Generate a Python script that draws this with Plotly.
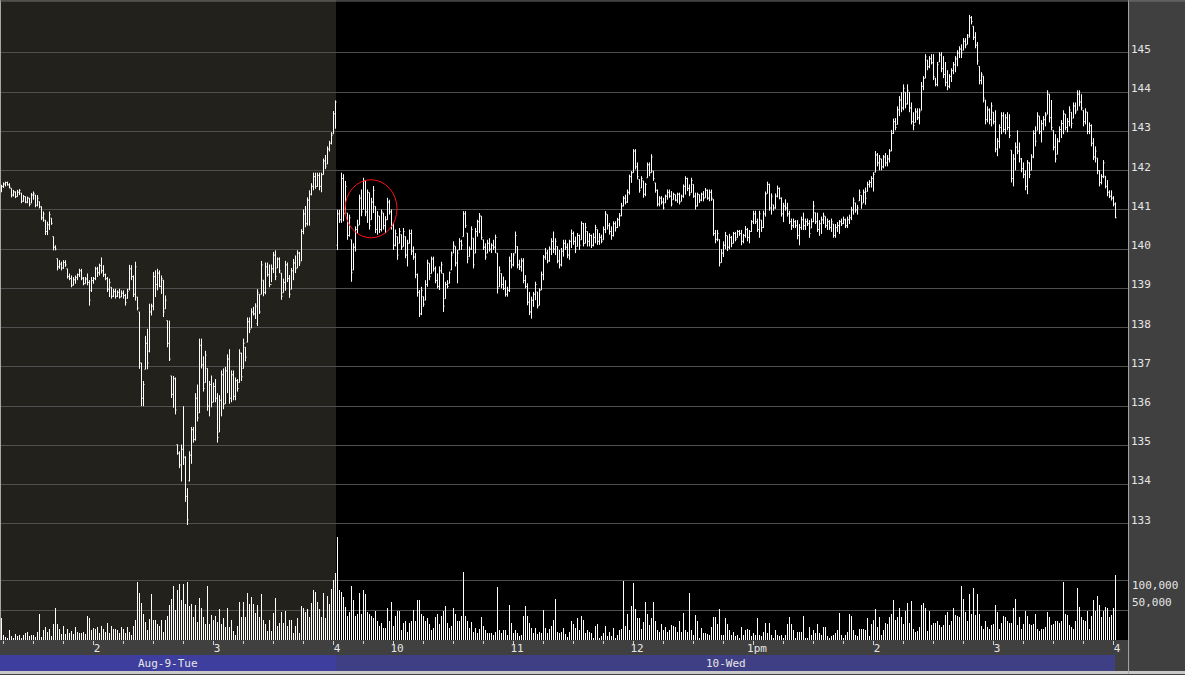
import numpy as np
import plotly.graph_objects as go

# ---------------- data (1-minute bars) ----------------
# Session axis labels
tick_labels = ["2", "3", "4", "10", "11", "12", "1pm", "2", "3", "4"]
session_labels = ["Aug-9-Tue", "10-Wed"]
price_ticks = [133, 134, 135, 136, 137, 138, 139, 140, 141, 142, 143, 144, 145]
volume_ticks = [50000, 100000]

# Aug 9 (afternoon, 168 bars)
aug9_high = [
    141.64, 141.70, 141.72, 141.72, 141.68, 141.55, 141.51, 141.47, 141.51, 141.53,
    141.43, 141.38, 141.34, 141.34, 141.30, 141.43, 141.47, 141.38, 141.38, 141.21,
    141.09, 140.96, 140.74, 140.70, 140.96, 140.79, 140.32, 140.10, 139.76, 139.72,
    139.68, 139.72, 139.72, 139.50, 139.38, 139.33, 139.29, 139.33, 139.38, 139.50,
    139.50, 139.29, 139.29, 139.38, 139.21, 139.29, 139.29, 139.55, 139.55, 139.63,
    139.79, 139.59, 139.38, 139.29, 139.25, 139.03, 138.99, 138.99, 138.95, 138.99,
    138.95, 138.95, 138.86, 138.99, 139.60, 139.59, 139.33, 139.68, 138.78, 138.40,
    137.10, 136.64, 137.79, 137.97, 138.61, 138.61, 139.42, 139.46, 139.50, 139.46,
    139.33, 139.21, 138.82, 138.18, 138.18, 136.77, 136.77, 136.73, 135.02, 134.85,
    135.02, 136.00, 134.72, 133.91, 134.85, 135.47, 135.47, 136.33, 136.55, 137.72,
    137.72, 137.27, 137.41, 136.96, 136.64, 136.78, 136.60, 136.69, 136.33, 136.28,
    136.91, 136.96, 137.00, 137.32, 137.45, 136.91, 136.91, 136.73, 136.69, 137.45,
    137.36, 137.72, 137.50, 138.26, 138.26, 138.49, 138.53, 138.62, 138.98, 138.85,
    139.70, 139.21, 139.66, 139.66, 139.61, 139.61, 139.93, 139.97, 139.79, 139.79,
    139.39, 139.25, 139.70, 139.66, 139.34, 139.52, 139.75, 139.84, 139.97, 139.93,
    140.51, 141.01, 141.10, 141.32, 141.50, 141.68, 141.95, 141.95, 141.95, 141.95,
    141.95, 142.31, 142.40, 142.62, 142.76, 142.98, 143.52, 143.79,
]
aug9_low = [
    141.45, 141.56, 141.60, 141.62, 141.55, 141.32, 141.34, 141.30, 141.34, 141.38,
    141.17, 141.21, 141.17, 141.17, 141.09, 141.17, 141.26, 141.07, 141.09, 141.04,
    140.74, 140.70, 140.36, 140.36, 140.49, 140.62, 139.97, 139.97, 139.46, 139.50,
    139.46, 139.50, 139.55, 139.25, 139.21, 139.03, 139.08, 139.12, 139.21, 139.29,
    139.21, 139.08, 139.12, 139.08, 138.56, 138.91, 139.12, 139.21, 139.29, 139.33,
    139.38, 139.29, 139.21, 138.91, 138.78, 138.74, 138.78, 138.74, 138.78, 138.74,
    138.78, 138.74, 138.56, 138.74, 138.95, 139.21, 138.78, 138.69, 138.44, 136.95,
    136.00, 136.00, 136.94, 136.94, 137.37, 138.31, 138.44, 138.78, 138.95, 139.03,
    138.86, 138.27, 138.48, 137.50, 137.15, 136.21, 135.96, 135.79, 134.76, 134.42,
    134.08, 134.50, 133.56, 132.97, 134.08, 134.53, 135.07, 135.12, 135.61, 135.83,
    136.96, 136.37, 136.60, 135.88, 135.74, 135.97, 136.10, 136.10, 135.07, 135.34,
    135.74, 135.92, 136.06, 136.33, 136.06, 136.10, 136.15, 136.15, 136.37, 136.60,
    136.64, 136.96, 137.14, 137.63, 137.86, 137.99, 138.31, 138.22, 138.04, 138.35,
    138.85, 138.80, 138.85, 139.30, 139.03, 139.16, 139.39, 139.21, 139.52, 139.39,
    138.71, 138.89, 138.94, 139.16, 138.76, 138.98, 139.21, 139.39, 139.52, 139.57,
    139.70, 140.38, 140.56, 140.60, 140.60, 141.37, 141.50, 141.54, 141.59, 141.50,
    141.45, 141.90, 142.04, 142.17, 142.49, 142.67, 142.94, 143.07,
]
aug9_open = [
    141.50, 141.60, 141.66, 141.70, 141.64, 141.55, 141.38, 141.46, 141.34, 141.45,
    141.43, 141.22, 141.34, 141.20, 141.30, 141.18, 141.38, 141.38, 141.12, 141.21,
    141.08, 140.80, 140.74, 140.45, 140.62, 140.79, 140.32, 140.05, 139.76, 139.55,
    139.62, 139.52, 139.66, 139.50, 139.30, 139.25, 139.08, 139.22, 139.28, 139.35,
    139.45, 139.26, 139.12, 139.24, 139.15, 138.95, 139.20, 139.25, 139.50, 139.40,
    139.58, 139.45, 139.35, 139.25, 138.98, 139.03, 138.80, 138.92, 138.80, 138.90,
    138.78, 138.88, 138.82, 138.75, 138.98, 139.50, 139.30, 138.85, 138.78, 138.40,
    137.10, 136.20, 136.94, 137.60, 137.40, 138.40, 138.55, 139.30, 139.10, 139.38,
    139.05, 139.21, 138.48, 138.18, 137.60, 136.77, 136.30, 136.70, 135.02, 134.80,
    134.50, 134.90, 134.70, 133.70, 134.10, 134.75, 135.40, 135.15, 136.20, 135.83,
    137.55, 137.05, 136.60, 136.96, 136.00, 136.55, 136.10, 136.50, 136.20, 135.34,
    136.15, 136.80, 136.06, 136.90, 137.20, 136.20, 136.80, 136.25, 136.65, 136.60,
    137.35, 136.96, 137.50, 137.63, 138.15, 137.99, 138.40, 138.35, 138.10, 138.85,
    138.85, 139.21, 138.90, 139.55, 139.35, 139.10, 139.50, 139.85, 139.52, 139.75,
    139.39, 138.89, 139.15, 139.60, 139.25, 138.98, 139.45, 139.65, 139.52, 139.90,
    139.70, 140.45, 140.90, 140.65, 141.25, 141.40, 141.60, 141.85, 141.60, 141.88,
    141.60, 141.90, 142.25, 142.17, 142.55, 142.70, 142.94, 143.45,
]
aug9_close = [
    141.60, 141.66, 141.70, 141.64, 141.58, 141.38, 141.46, 141.34, 141.45, 141.50,
    141.22, 141.34, 141.20, 141.30, 141.14, 141.38, 141.42, 141.12, 141.30, 141.08,
    140.80, 140.90, 140.45, 140.62, 140.88, 140.66, 140.05, 140.00, 139.55, 139.62,
    139.52, 139.66, 139.60, 139.30, 139.25, 139.08, 139.22, 139.28, 139.35, 139.45,
    139.26, 139.12, 139.24, 139.15, 138.70, 139.20, 139.25, 139.50, 139.40, 139.58,
    139.45, 139.35, 139.25, 138.98, 139.15, 138.80, 138.92, 138.80, 138.90, 138.78,
    138.88, 138.82, 138.64, 138.92, 139.50, 139.30, 138.85, 139.55, 138.50, 137.10,
    136.20, 136.55, 137.60, 137.10, 138.40, 138.55, 139.30, 139.10, 139.40, 139.05,
    139.25, 138.40, 138.70, 137.60, 137.20, 136.30, 136.70, 135.90, 134.80, 134.50,
    134.90, 134.70, 133.70, 133.10, 134.75, 135.40, 135.15, 136.20, 135.70, 137.55,
    137.05, 136.45, 137.30, 136.00, 136.55, 136.10, 136.50, 136.20, 135.20, 136.15,
    136.80, 136.05, 136.90, 137.20, 136.20, 136.80, 136.25, 136.65, 136.45, 137.35,
    136.75, 137.60, 137.25, 138.15, 137.95, 138.40, 138.35, 138.55, 138.90, 138.40,
    139.60, 138.90, 139.55, 139.35, 139.10, 139.50, 139.85, 139.30, 139.75, 139.45,
    138.80, 139.15, 139.60, 139.25, 138.85, 139.45, 139.65, 139.50, 139.90, 139.65,
    140.45, 140.90, 140.65, 141.25, 141.40, 141.60, 141.85, 141.60, 141.88, 141.60,
    141.90, 142.25, 142.10, 142.55, 142.70, 142.90, 143.45, 143.75,
]
aug9_volume_k = [
    36, 8, 5, 4, 17, 6, 4, 10, 7, 9,
    3, 8, 11, 13, 6, 8, 9, 5, 13, 43,
    5, 17, 22, 14, 18, 7, 27, 54, 27, 18,
    10, 24, 10, 19, 12, 15, 10, 22, 14, 12,
    11, 13, 10, 40, 37, 17, 20, 18, 22, 12,
    24, 18, 14, 28, 12, 24, 18, 18, 17, 12,
    22, 18, 11, 22, 13, 8, 24, 34, 97, 78,
    62, 44, 30, 16, 35, 77, 34, 34, 26, 24,
    34, 13, 34, 40, 58, 69, 90, 50, 84, 93,
    67, 94, 60, 96, 57, 60, 39, 58, 30, 70,
    54, 39, 27, 90, 27, 41, 33, 40, 30, 51,
    27, 36, 21, 54, 21, 33, 15, 9, 24, 64,
    39, 63, 39, 78, 60, 72, 60, 45, 58, 39,
    76, 33, 27, 15, 33, 15, 45, 70, 24, 28,
    46, 28, 48, 24, 34, 34, 12, 24, 36, 12,
    56, 54, 46, 51, 39, 62, 84, 80, 63, 51,
    39, 78, 36, 74, 60, 85, 100, 112,
]

# Aug 10 (full session, 390 bars)
aug10_high = [
    141.00, 141.00, 141.95, 141.91, 141.74, 140.92, 140.88, 140.24, 140.15, 140.58,
    140.75, 141.39, 141.52, 141.82, 141.74, 141.52, 141.44, 141.31, 141.61, 141.09,
    140.97, 140.84, 141.01, 140.92, 140.84, 141.31, 141.26, 141.01, 140.67, 140.50,
    140.32, 140.54, 140.37, 140.54, 140.32, 140.24, 140.50, 140.50, 140.07, 139.90,
    139.38, 138.96, 139.04, 138.79, 139.21, 139.73, 139.64, 139.81, 139.81, 139.56,
    139.38, 139.56, 139.68, 139.38, 139.17, 139.21, 139.43, 139.94, 140.20, 140.07,
    139.98, 140.28, 140.24, 140.97, 140.97, 140.41, 140.07, 140.58, 140.28, 140.54,
    140.75, 140.92, 140.84, 140.24, 140.15, 140.24, 140.28, 140.15, 140.24, 140.37,
    139.90, 139.56, 139.38, 139.30, 139.21, 139.04, 139.81, 139.90, 139.90, 140.45,
    140.07, 139.73, 139.77, 139.77, 139.34, 139.13, 138.91, 138.79, 138.91, 139.17,
    138.91, 139.00, 139.43, 139.85, 140.03, 139.98, 140.07, 140.28, 140.45, 140.28,
    140.07, 139.98, 140.03, 140.24, 140.24, 140.15, 140.24, 140.50, 140.45, 140.32,
    140.41, 140.37, 140.71, 140.67, 140.67, 140.45, 140.41, 140.37, 140.41, 140.62,
    140.50, 140.41, 140.37, 140.58, 140.97, 140.88, 140.67, 140.58, 140.71, 140.71,
    140.80, 140.92, 141.18, 141.35, 141.39, 141.52, 141.90, 141.99, 142.55, 142.55,
    142.21, 141.78, 141.86, 141.74, 141.69, 142.21, 142.21, 142.42, 141.99, 141.69,
    141.52, 141.35, 141.35, 141.31, 141.39, 141.52, 141.52, 141.48, 141.44, 141.39,
    141.44, 141.44, 141.39, 141.65, 141.86, 141.82, 141.65, 141.82, 141.65, 141.44,
    141.44, 141.39, 141.44, 141.48, 141.56, 141.52, 141.52, 141.52, 141.27, 140.49,
    140.49, 140.25, 140.00, 140.20, 140.44, 140.34, 140.39, 140.34, 140.44, 140.44,
    140.49, 140.49, 140.49, 140.39, 140.59, 140.54, 140.49, 140.74, 140.98, 140.98,
    140.78, 140.98, 140.74, 140.98, 141.47, 141.72, 141.67, 141.42, 141.13, 141.42,
    141.62, 141.57, 141.32, 141.18, 141.27, 141.18, 140.98, 140.78, 140.78, 140.74,
    140.74, 140.64, 140.83, 140.93, 140.78, 140.78, 140.74, 140.78, 141.23, 140.93,
    140.93, 140.74, 140.83, 140.93, 140.83, 140.78, 140.74, 140.78, 140.64, 140.64,
    140.69, 140.74, 140.78, 140.83, 140.78, 140.83, 140.88, 141.08, 141.32, 141.18,
    141.13, 141.52, 141.37, 141.52, 141.57, 141.72, 141.76, 141.86, 141.96, 142.50,
    142.45, 142.40, 142.30, 142.40, 142.45, 142.40, 142.55, 143.04, 143.33, 143.34,
    143.64, 143.90, 144.00, 144.20, 144.00, 144.20, 144.00, 143.74, 143.49, 143.59,
    143.59, 143.59, 144.26, 144.41, 144.97, 144.82, 144.92, 144.97, 144.97, 144.36,
    144.77, 145.02, 145.02, 144.92, 144.77, 144.56, 144.46, 144.61, 144.77, 144.92,
    145.07, 145.17, 145.22, 145.38, 145.38, 145.48, 145.97, 145.94, 145.68, 145.53,
    145.28, 144.66, 144.51, 144.41, 143.80, 143.64, 143.59, 143.74, 143.49, 143.54,
    142.83, 143.18, 143.49, 143.49, 143.44, 143.49, 143.44, 142.52, 142.42, 142.72,
    143.03, 142.72, 142.32, 142.21, 142.01, 142.27, 142.21, 142.42, 143.03, 143.13,
    143.49, 143.39, 143.29, 143.39, 143.49, 144.05, 143.95, 143.80, 143.03, 142.93,
    142.83, 143.13, 143.29, 143.54, 143.44, 143.34, 143.64, 143.49, 143.74, 143.74,
    144.05, 144.05, 143.95, 143.54, 143.59, 143.49, 143.23, 143.18, 142.83, 142.62,
    142.32, 142.01, 141.91, 142.27, 141.86, 141.76, 141.50, 141.50, 141.35, 141.19,
]
aug10_low = [
    139.98, 140.67, 140.67, 140.71, 140.92, 140.24, 140.32, 139.17, 139.47, 139.94,
    140.41, 140.62, 140.84, 141.01, 140.84, 140.67, 140.50, 140.75, 140.92, 140.41,
    140.37, 140.41, 140.45, 140.50, 140.41, 140.75, 140.88, 140.50, 139.98, 140.07,
    139.73, 140.15, 139.98, 140.07, 139.77, 139.56, 140.15, 139.85, 139.73, 139.26,
    138.79, 138.27, 138.32, 138.53, 138.70, 139.04, 139.21, 139.38, 139.43, 139.13,
    139.00, 138.96, 139.38, 138.40, 138.74, 139.00, 139.13, 139.47, 139.90, 139.56,
    139.13, 139.98, 139.98, 140.32, 140.54, 139.64, 139.81, 139.98, 139.51, 139.90,
    140.32, 140.41, 140.24, 139.98, 139.73, 139.90, 139.94, 139.90, 139.98, 139.90,
    138.87, 139.04, 139.00, 138.96, 138.79, 138.79, 138.91, 139.51, 139.56, 139.90,
    139.51, 139.47, 139.43, 139.13, 139.00, 138.57, 138.32, 138.23, 138.53, 138.70,
    138.49, 138.57, 138.96, 139.21, 139.73, 139.64, 139.68, 139.85, 139.90, 139.85,
    139.64, 139.51, 139.56, 139.81, 139.98, 139.77, 139.73, 140.03, 140.11, 139.90,
    140.07, 139.98, 140.24, 140.07, 140.15, 140.07, 140.07, 140.03, 140.07, 140.15,
    140.11, 140.11, 140.15, 140.24, 140.41, 140.50, 140.37, 140.24, 140.32, 140.45,
    140.54, 140.58, 140.84, 141.09, 141.14, 141.18, 141.39, 141.69, 141.95, 142.03,
    141.78, 141.44, 141.56, 141.31, 141.35, 141.82, 141.86, 141.95, 141.74, 141.44,
    141.09, 141.09, 141.14, 141.01, 141.18, 141.26, 141.31, 141.09, 141.26, 141.22,
    141.18, 141.14, 141.22, 141.31, 141.39, 141.48, 141.35, 141.44, 141.31, 141.01,
    141.09, 141.18, 141.22, 141.22, 141.31, 141.26, 141.22, 141.23, 140.34, 140.15,
    140.20, 139.56, 139.66, 139.80, 140.00, 139.95, 140.00, 140.05, 140.15, 140.20,
    140.29, 140.34, 140.10, 140.15, 140.29, 140.20, 140.15, 140.44, 140.64, 140.64,
    140.44, 140.29, 140.44, 140.54, 140.83, 141.42, 140.98, 140.88, 140.98, 141.03,
    141.32, 141.27, 140.83, 140.69, 140.98, 140.83, 140.64, 140.49, 140.54, 140.54,
    140.25, 140.10, 140.49, 140.49, 140.49, 140.59, 140.29, 140.54, 140.69, 140.64,
    140.44, 140.34, 140.39, 140.64, 140.54, 140.49, 140.49, 140.44, 140.29, 140.29,
    140.44, 140.39, 140.59, 140.64, 140.54, 140.54, 140.64, 140.74, 140.88, 140.93,
    140.88, 141.23, 141.03, 141.18, 141.13, 141.47, 141.57, 141.57, 141.47, 141.96,
    142.11, 142.01, 142.01, 142.06, 142.11, 142.11, 142.21, 142.50, 142.94, 143.03,
    143.18, 143.39, 143.49, 143.54, 143.59, 143.69, 143.49, 143.18, 143.03, 143.23,
    143.29, 143.18, 143.54, 144.05, 144.36, 144.56, 144.61, 144.71, 144.31, 144.15,
    144.15, 144.77, 144.51, 144.36, 144.15, 144.05, 144.10, 144.26, 144.46, 144.51,
    144.66, 144.87, 144.87, 145.07, 145.12, 145.22, 145.40, 145.73, 145.33, 145.12,
    144.70, 144.20, 144.20, 143.74, 143.18, 143.23, 143.18, 143.13, 143.18, 142.47,
    142.37, 142.57, 142.93, 142.98, 142.93, 143.03, 142.83, 141.70, 141.60, 142.01,
    142.42, 142.21, 141.96, 141.81, 141.50, 141.40, 141.81, 142.01, 142.32, 142.62,
    143.03, 142.93, 142.72, 143.03, 143.13, 143.44, 143.23, 143.03, 142.52, 142.21,
    142.42, 142.72, 142.83, 142.93, 143.03, 142.98, 143.13, 143.08, 143.34, 143.44,
    143.54, 143.64, 143.54, 143.13, 143.18, 142.93, 142.93, 142.62, 142.27, 142.21,
    141.91, 141.60, 141.65, 141.81, 141.55, 141.35, 141.30, 141.24, 141.09, 140.79,
]
aug10_open = [
    140.10, 140.90, 140.75, 141.80, 140.92, 140.92, 140.35, 140.24, 139.47, 140.05,
    140.50, 140.62, 141.30, 141.01, 141.74, 140.95, 141.44, 140.75, 141.20, 141.09,
    140.50, 140.84, 140.50, 140.92, 140.60, 140.75, 141.20, 140.95, 140.60, 140.10,
    140.32, 140.15, 140.37, 140.07, 140.32, 139.85, 140.15, 140.40, 139.95, 139.80,
    139.35, 138.90, 138.35, 138.79, 138.70, 139.10, 139.64, 139.38, 139.75, 139.50,
    139.20, 139.05, 139.45, 139.38, 138.74, 139.10, 139.13, 139.47, 139.90, 140.07,
    139.65, 139.98, 140.20, 140.32, 140.90, 140.41, 139.81, 140.00, 140.28, 139.90,
    140.45, 140.70, 140.84, 140.24, 140.05, 139.90, 140.15, 140.00, 140.10, 140.05,
    139.90, 139.04, 139.38, 139.10, 139.00, 138.85, 138.95, 139.70, 139.60, 139.90,
    140.07, 139.60, 139.55, 139.70, 139.20, 139.05, 138.65, 138.40, 138.70, 138.85,
    138.91, 138.57, 138.96, 139.35, 139.80, 139.90, 139.70, 140.00, 140.20, 140.00,
    140.07, 139.70, 139.60, 139.95, 140.15, 140.05, 139.85, 140.20, 140.40, 140.20,
    140.07, 140.35, 140.24, 140.65, 140.15, 140.45, 140.20, 140.35, 140.10, 140.30,
    140.50, 140.20, 140.30, 140.24, 140.50, 140.88, 140.60, 140.45, 140.35, 140.65,
    140.55, 140.75, 140.85, 141.10, 141.30, 141.20, 141.45, 141.85, 141.95, 142.50,
    142.10, 141.78, 141.56, 141.74, 141.40, 141.82, 142.15, 141.95, 141.99, 141.69,
    141.50, 141.15, 141.30, 141.20, 141.18, 141.35, 141.45, 141.35, 141.26, 141.39,
    141.25, 141.40, 141.22, 141.35, 141.60, 141.80, 141.55, 141.44, 141.65, 141.35,
    141.10, 141.39, 141.25, 141.40, 141.31, 141.50, 141.30, 141.45, 141.27, 140.40,
    140.25, 140.25, 139.66, 139.90, 140.10, 140.34, 140.05, 140.30, 140.15, 140.40,
    140.29, 140.45, 140.40, 140.20, 140.35, 140.50, 140.30, 140.45, 140.70, 140.90,
    140.70, 140.50, 140.74, 140.55, 140.90, 141.42, 141.65, 141.05, 141.13, 141.05,
    141.35, 141.55, 141.30, 140.90, 141.10, 141.05, 140.90, 140.70, 140.60, 140.70,
    140.60, 140.35, 140.55, 140.75, 140.60, 140.70, 140.65, 140.54, 140.70, 140.93,
    140.70, 140.50, 140.65, 140.75, 140.83, 140.60, 140.70, 140.55, 140.64, 140.35,
    140.55, 140.60, 140.70, 140.65, 140.75, 140.60, 140.75, 140.80, 141.00, 141.18,
    141.00, 141.23, 141.37, 141.18, 141.45, 141.47, 141.65, 141.70, 141.80, 141.96,
    142.40, 142.20, 142.30, 142.10, 142.35, 142.20, 142.30, 142.50, 142.95, 143.25,
    143.18, 143.55, 143.80, 143.60, 144.00, 143.70, 144.00, 143.60, 143.25, 143.23,
    143.50, 143.35, 143.54, 144.15, 144.36, 144.82, 144.65, 144.85, 144.75, 144.36,
    144.20, 144.77, 144.95, 144.60, 144.45, 144.25, 144.15, 144.40, 144.55, 144.70,
    144.85, 145.00, 145.10, 145.07, 145.30, 145.22, 145.40, 145.90, 145.68, 145.40,
    145.20, 144.66, 144.30, 144.41, 143.80, 143.30, 143.55, 143.30, 143.49, 143.25,
    142.55, 142.75, 143.10, 143.40, 143.05, 143.35, 143.10, 142.52, 141.80, 142.30,
    142.60, 142.50, 142.30, 142.05, 141.90, 141.60, 142.20, 142.01, 142.35, 142.95,
    143.03, 143.39, 143.00, 143.20, 143.30, 143.44, 143.95, 143.35, 143.03, 142.60,
    142.42, 142.75, 143.05, 143.20, 143.44, 143.10, 143.25, 143.49, 143.34, 143.65,
    143.54, 143.95, 143.75, 143.54, 143.25, 143.49, 143.00, 143.15, 142.70, 142.35,
    142.32, 142.00, 141.70, 141.85, 141.86, 141.60, 141.45, 141.35, 141.30, 141.15,
]
aug10_close = [
    140.90, 140.75, 141.80, 140.90, 141.60, 140.35, 140.80, 139.40, 140.05, 140.50,
    140.60, 141.30, 140.95, 141.75, 140.95, 141.45, 140.60, 141.20, 141.50, 140.50,
    140.85, 140.50, 140.95, 140.60, 140.75, 141.20, 140.95, 140.60, 140.10, 140.40,
    139.85, 140.45, 140.05, 140.45, 139.85, 140.15, 140.40, 139.95, 139.80, 139.35,
    138.90, 138.35, 138.95, 138.60, 139.10, 139.65, 139.30, 139.75, 139.50, 139.20,
    139.05, 139.45, 139.60, 138.55, 139.10, 139.05, 139.40, 139.85, 140.10, 139.65,
    139.90, 140.20, 140.10, 140.90, 140.60, 139.75, 140.00, 140.50, 139.60, 140.45,
    140.70, 140.85, 140.30, 140.05, 139.80, 140.15, 140.00, 140.10, 140.05, 140.30,
    139.00, 139.45, 139.10, 139.00, 138.85, 138.95, 139.70, 139.60, 139.85, 140.35,
    139.60, 139.55, 139.70, 139.20, 139.05, 138.65, 138.40, 138.70, 138.85, 139.10,
    138.55, 138.95, 139.35, 139.80, 139.90, 139.70, 140.00, 140.20, 140.00, 140.20,
    139.70, 139.60, 139.95, 140.15, 140.05, 139.85, 140.20, 140.40, 140.20, 140.00,
    140.35, 140.10, 140.65, 140.15, 140.55, 140.20, 140.35, 140.10, 140.30, 140.55,
    140.20, 140.30, 140.20, 140.50, 140.90, 140.60, 140.45, 140.35, 140.65, 140.55,
    140.75, 140.85, 141.10, 141.30, 141.20, 141.45, 141.85, 141.95, 142.50, 142.10,
    141.85, 141.50, 141.80, 141.40, 141.65, 142.15, 141.95, 142.35, 141.80, 141.50,
    141.15, 141.30, 141.20, 141.05, 141.35, 141.45, 141.35, 141.15, 141.40, 141.25,
    141.40, 141.20, 141.35, 141.60, 141.80, 141.55, 141.40, 141.75, 141.35, 141.10,
    141.40, 141.25, 141.40, 141.30, 141.50, 141.30, 141.45, 141.30, 140.40, 140.25,
    140.40, 139.65, 139.90, 140.10, 140.35, 140.05, 140.30, 140.15, 140.40, 140.25,
    140.45, 140.40, 140.20, 140.35, 140.50, 140.30, 140.45, 140.70, 140.90, 140.70,
    140.50, 140.90, 140.55, 140.90, 141.40, 141.65, 141.05, 141.35, 141.05, 141.35,
    141.55, 141.30, 140.90, 141.10, 141.05, 140.90, 140.70, 140.60, 140.70, 140.60,
    140.35, 140.55, 140.75, 140.60, 140.70, 140.65, 140.40, 140.70, 141.10, 140.70,
    140.50, 140.65, 140.75, 140.85, 140.60, 140.70, 140.55, 140.70, 140.35, 140.55,
    140.60, 140.70, 140.65, 140.75, 140.60, 140.75, 140.80, 141.00, 141.25, 141.00,
    141.05, 141.45, 141.15, 141.45, 141.30, 141.65, 141.70, 141.80, 141.90, 142.40,
    142.20, 142.30, 142.10, 142.35, 142.20, 142.30, 142.50, 142.95, 143.25, 143.10,
    143.55, 143.80, 143.60, 144.10, 143.70, 144.05, 143.60, 143.25, 143.15, 143.50,
    143.35, 143.50, 144.15, 144.35, 144.90, 144.65, 144.85, 144.75, 144.40, 144.20,
    144.70, 144.95, 144.60, 144.45, 144.25, 144.15, 144.40, 144.55, 144.70, 144.85,
    145.00, 145.10, 145.00, 145.30, 145.20, 145.45, 145.90, 145.80, 145.40, 145.20,
    144.80, 144.30, 144.45, 143.85, 143.30, 143.55, 143.30, 143.65, 143.25, 142.55,
    142.75, 143.10, 143.40, 143.05, 143.35, 143.10, 142.90, 141.80, 142.30, 142.60,
    142.50, 142.30, 142.05, 141.90, 141.60, 142.20, 141.90, 142.35, 142.95, 142.75,
    143.40, 143.00, 143.20, 143.30, 143.40, 143.95, 143.35, 143.10, 142.60, 142.30,
    142.75, 143.05, 143.20, 143.45, 143.10, 143.25, 143.55, 143.20, 143.65, 143.50,
    143.95, 143.75, 143.60, 143.25, 143.50, 143.00, 143.15, 142.70, 142.35, 142.50,
    142.00, 141.70, 141.85, 142.20, 141.60, 141.45, 141.35, 141.30, 141.15, 140.80,
]
aug10_volume_k = [
    172, 83, 80, 72, 55, 40, 46, 90, 66, 40,
    43, 79, 43, 83, 76, 46, 43, 40, 36, 49,
    32, 23, 29, 20, 20, 53, 32, 63, 23, 40,
    48, 48, 17, 29, 32, 14, 29, 32, 50, 32,
    67, 67, 43, 40, 32, 36, 27, 17, 20, 39,
    43, 26, 40, 49, 57, 29, 20, 23, 53, 43,
    32, 32, 40, 114, 40, 32, 20, 30, 14, 20,
    11, 19, 39, 23, 17, 11, 11, 11, 9, 14,
    88, 17, 11, 16, 17, 9, 59, 29, 11, 16,
    11, 6, 9, 40, 56, 40, 29, 20, 11, 20,
    10, 14, 11, 50, 20, 11, 19, 24, 33, 69,
    14, 11, 13, 20, 10, 5, 13, 32, 26, 20,
    36, 17, 40, 34, 11, 16, 13, 11, 4, 23,
    26, 4, 6, 11, 23, 6, 14, 6, 20, 3,
    9, 16, 19, 99, 23, 43, 16, 57, 95, 52,
    37, 36, 19, 30, 64, 44, 25, 36, 63, 32,
    16, 14, 26, 17, 21, 14, 17, 25, 24, 21,
    14, 32, 14, 45, 17, 14, 78, 17, 9, 42,
    32, 3, 20, 11, 11, 10, 9, 22, 39, 39,
    26, 52, 9, 9, 36, 26, 16, 9, 13, 6,
    9, 3, 22, 9, 16, 19, 16, 6, 11, 8,
    36, 9, 6, 13, 28, 11, 28, 8, 3, 17,
    9, 6, 8, 4, 9, 26, 39, 26, 16, 3,
    13, 13, 13, 40, 3, 4, 22, 8, 17, 11,
    26, 11, 9, 22, 22, 6, 4, 6, 9, 11,
    16, 45, 9, 4, 8, 13, 44, 40, 16, 9,
    6, 19, 19, 19, 17, 36, 6, 26, 34, 52,
    22, 39, 8, 16, 29, 26, 39, 43, 66, 33,
    39, 54, 38, 26, 49, 62, 28, 65, 18, 13,
    15, 22, 58, 61, 53, 15, 49, 25, 28, 28,
    32, 25, 22, 25, 42, 47, 25, 31, 53, 42,
    40, 39, 90, 68, 46, 31, 77, 44, 87, 42,
    77, 44, 24, 18, 31, 22, 18, 25, 27, 58,
    46, 18, 28, 40, 38, 32, 28, 28, 54, 68,
    25, 39, 18, 26, 49, 40, 26, 25, 26, 44,
    18, 15, 18, 19, 22, 47, 39, 25, 27, 31,
    32, 28, 32, 97, 44, 42, 25, 22, 19, 31,
    87, 55, 38, 33, 31, 48, 18, 40, 66, 48,
    73, 58, 38, 49, 55, 53, 38, 42, 54, 108,
]

# ---------------- assemble ----------------
for name, lst, n in [("aug9_high", aug9_high, 168), ("aug9_low", aug9_low, 168),
                     ("aug9_open", aug9_open, 168), ("aug9_close", aug9_close, 168),
                     ("aug9_volume_k", aug9_volume_k, 168),
                     ("aug10_high", aug10_high, 390), ("aug10_low", aug10_low, 390),
                     ("aug10_open", aug10_open, 390), ("aug10_close", aug10_close, 390),
                     ("aug10_volume_k", aug10_volume_k, 390)]:
    if len(lst) != n:
        raise ValueError(f"{name} has {len(lst)} values, expected {n}")

opens = aug9_open + aug10_open
highs = aug9_high + aug10_high
lows = aug9_low + aug10_low
closes = aug9_close + aug10_close
volumes = [v * 1000 for v in aug9_volume_k + aug10_volume_k]

n9 = len(aug9_high)
n_all = len(highs)
# session-compressed minute axis (one unit per minute bar)
xs = np.arange(n_all) + 0.75
session_break = n9
# hourly tick positions on the compressed axis
tick_pos = [46.5, 106.5, 166.5, 196.5, 256.5, 316.5, 376.5, 436.5, 496.5, 556.5]

FONT = "DejaVu Sans Mono"
TXT = "#e6e6e6"
GRID = "#505050"
PANEL = "#404040"

fig = go.Figure()
fig.add_trace(go.Ohlc(
    x=xs, open=opens, high=highs, low=lows, close=closes,
    increasing=dict(line=dict(color="white", width=1)),
    decreasing=dict(line=dict(color="white", width=1)),
    tickwidth=0.5, hoverinfo="skip", showlegend=False,
))
fig.add_trace(go.Bar(
    x=xs, y=volumes, width=0.5, yaxis="y2",
    marker=dict(color="white", line=dict(width=0)),
    hoverinfo="skip", showlegend=False,
))

x_max = 564
fig.update_layout(
    width=1185, height=675,
    margin=dict(l=0, r=57, t=0, b=35, pad=0),
    paper_bgcolor=PANEL, plot_bgcolor="black",
    font=dict(family=FONT, size=11, color=TXT),
    showlegend=False, hovermode=False, bargap=0,
    xaxis=dict(
        range=[0, x_max], rangeslider=dict(visible=False),
        showgrid=False, zeroline=False, showline=False,
        tickmode="array", tickvals=tick_pos, ticktext=tick_labels,
        ticks="outside", ticklen=4, tickcolor="#d0d0d0", tickwidth=1,
        ticklabelshift=4, ticklabelstandoff=-6,
        minor=dict(ticks="outside", ticklen=3, tickcolor="#d0d0d0",
                   tick0=1.5, dtick=15, showgrid=False),
        tickfont=dict(family=FONT, size=11, color=TXT),
        fixedrange=True,
    ),
    yaxis=dict(
        range=[130.04, 146.35], side="right",
        tickmode="array", tickvals=price_ticks,
        showgrid=True, gridcolor=GRID, gridwidth=1,
        zeroline=False, showline=False, ticks="",
        ticklabelshift=-4, ticklabelstandoff=2,
        tickfont=dict(family=FONT, size=11, color=TXT),
        fixedrange=True,
    ),
    yaxis2=dict(
        range=[0, 1066667], overlaying="y", side="right",
        tickmode="array", tickvals=volume_ticks,
        showgrid=True, gridcolor=GRID, gridwidth=1,
        showticklabels=False, zeroline=False, showline=False, ticks="",
        fixedrange=True,
    ),
)

shapes = [
    # Aug 9 session shading
    dict(type="rect", xref="x", yref="paper", x0=0, x1=session_break, y0=0, y1=1,
         fillcolor="#22211b", line=dict(width=0), layer="below"),
    # date strip
    dict(type="rect", xref="x", yref="paper", x0=0, x1=session_break,
         y0=-0.0484, y1=-0.0234, fillcolor="#3e3e9e", line=dict(width=0)),
    dict(type="rect", xref="x", yref="paper", x0=session_break, x1=557.5,
         y0=-0.0484, y1=-0.0234, fillcolor="#3f3f85", line=dict(width=0)),
    dict(type="rect", xref="paper", yref="paper", x0=0, x1=1.06,
         y0=-0.0531, y1=-0.0484, fillcolor="#c8c8c8", line=dict(width=0)),
    # panel borders
    dict(type="line", xref="paper", yref="paper", x0=1.0005, x1=1.0005, y0=-0.0531, y1=1,
         line=dict(color="#a8a8a8", width=1)),
    dict(type="line", xref="paper", yref="paper", x0=0.0004, x1=0.0004, y0=0, y1=1,
         line=dict(color="#b0b0b0", width=1)),
    dict(type="line", xref="paper", yref="paper", x0=0, x1=1.06, y0=0.9985, y1=0.9985,
         line=dict(color="#7a7a7a", width=1)),
    # red highlight circle
    dict(type="circle", xref="x", yref="y", x0=172.5, x1=198.5, y0=140.29, y1=141.77,
         line=dict(color="#ff1010", width=1)),
]
fig.update_layout(shapes=shapes)

annotations = [
    dict(text=session_labels[0], xref="x", yref="paper", x=session_break / 2, y=-0.036,
         showarrow=False, font=dict(family=FONT, size=11, color=TXT),
         xanchor="center", yanchor="middle"),
    dict(text=session_labels[1], xref="x", yref="paper", x=(session_break + 557.5) / 2,
         y=-0.036, showarrow=False, font=dict(family=FONT, size=11, color=TXT),
         xanchor="center", yanchor="middle"),
    dict(text=f"{volume_ticks[1]:,}", xref="paper", yref="paper", x=1, xshift=2,
         y=(640 - 585) / 640, showarrow=False, xanchor="left", yanchor="middle",
         font=dict(family=FONT, size=11, color=TXT)),
    dict(text=f"{volume_ticks[0]:,}", xref="paper", yref="paper", x=1, xshift=2,
         y=(640 - 602) / 640, showarrow=False, xanchor="left", yanchor="middle",
         font=dict(family=FONT, size=11, color=TXT)),
]
fig.update_layout(annotations=annotations)

# the page body must not add its default 8px margin around the chart
fig.write_html(
    "out.html",
    config={"displayModeBar": False, "staticPlot": True},
    post_script="document.body.style.margin='0';document.body.style.overflow='hidden';",
)
